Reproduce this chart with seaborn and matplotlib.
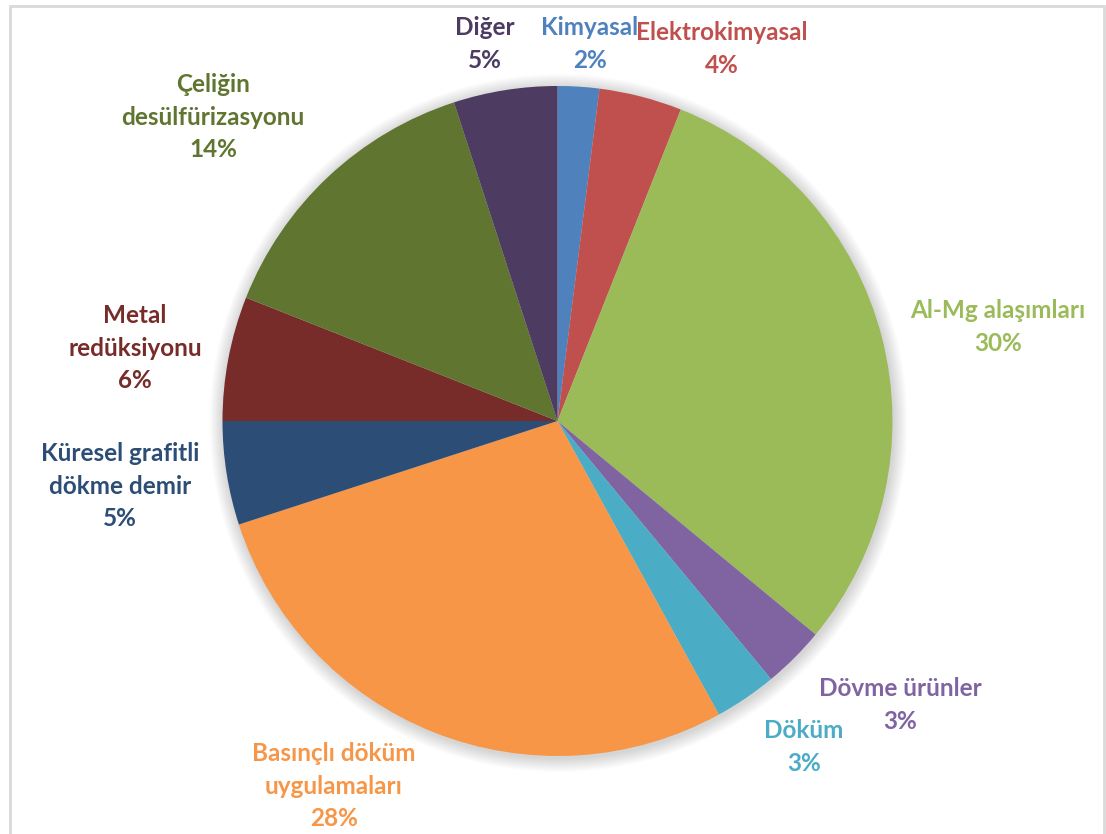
import matplotlib
matplotlib.use("Agg")
import matplotlib.pyplot as plt
from matplotlib.patches import Circle, Rectangle
import seaborn as sns

# Magnesium usage shares (%), clockwise from 12 o'clock
categories = [
    "Kimyasal",
    "Elektrokimyasal",
    "Al-Mg alaşımları",
    "Dövme ürünler",
    "Döküm",
    "Basınçlı döküm\nuygulamaları",
    "Küresel grafitli\ndökme demir",
    "Metal\nredüksiyonu",
    "Çeliğin\ndesülfürizasyonu",
    "Diğer",
]
shares = [2, 4, 30, 3, 3, 28, 5, 6, 14, 5]
colors = [
    "#4F81BD", "#C0504D", "#9BBB59", "#8064A2", "#4BACC6",
    "#F79646", "#2C4D75", "#772C2A", "#5F7530", "#4D3B62",
]

sns.set_theme(style="white")
plt.rcParams["font.family"] = ["Lato", "DejaVu Sans"]

W, H = 1106, 834
fig = plt.figure(figsize=(W / 100, H / 100), dpi=100)
ax = fig.add_axes([0, 0, 1, 1])

cx, cy, r = 557.5, H - 421, 335

# chart frame
ax.add_patch(Rectangle((10, -10), 1094, H - 6 + 10, fill=False,
                       edgecolor="#D9D9D9", linewidth=2, zorder=0))

# soft shadow around the pie
for k in range(14, 0, -1):
    ax.add_patch(Circle((cx + 1, cy - 2), r + k, facecolor="#000000",
                        alpha=0.012, edgecolor="none", zorder=1))

ax.pie(shares, colors=colors, startangle=90, counterclock=False,
       center=(cx, cy), radius=r, frame=True,
       wedgeprops=dict(linewidth=0, zorder=2))
ax.set_xlim(0, W)
ax.set_ylim(0, H)
ax.set_aspect("equal")
ax.axis("off")

# label anchors (pixel x, pixel y of the label block centre)
label_pos = [
    (590, 44), (722, 49), (998, 327), (900, 705), (804, 747),
    (334, 786), (120, 486), (135, 348), (213, 117), (485, 44),
]
for name, val, col, (lx, ly) in zip(categories, shares, colors, label_pos):
    ax.text(lx, H - ly, f"{name}\n{val}%", color=col, fontsize=17.5,
            fontweight="bold", ha="center", va="center",
            linespacing=1.52, zorder=5)

fig.savefig("out.png", dpi=100, facecolor="white")
